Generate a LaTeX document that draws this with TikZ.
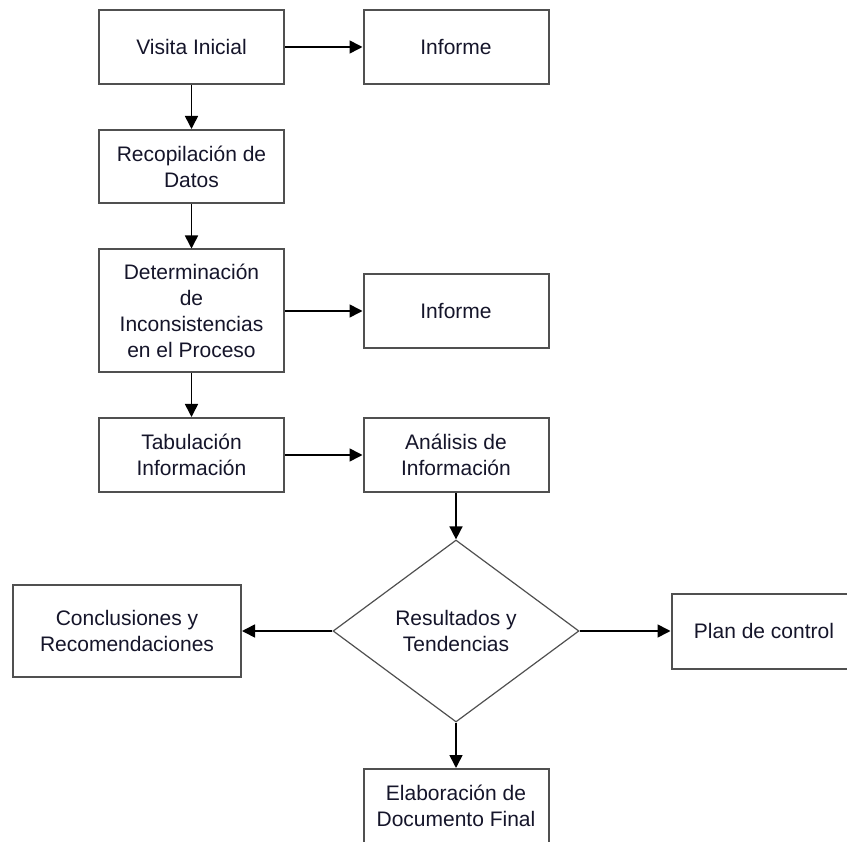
\documentclass[tikz,border=0pt]{standalone}
\usepackage{fontspec}
\setmainfont{Liberation Sans}
\usetikzlibrary{arrows.meta,shapes.geometric}
\definecolor{boxline}{HTML}{505050}
\definecolor{txt}{HTML}{15152A}
\tikzset{
  procbox/.style={draw=boxline,line width=2pt,rectangle,minimum width=185pt,minimum height=74pt,
    align=center,inner sep=2pt,text=txt,font={\fontsize{21}{26}\selectfont}},
  decbox/.style={draw=boxline,line width=1.2pt,shape=diamond,aspect=1.35,minimum width=246pt,minimum height=182pt,
    align=center,inner sep=0pt,text=txt,font={\fontsize{21}{26}\selectfont}},
  conn/.style={draw=black,line width=1.6pt,-{Triangle[length=13pt,width=13pt]}}
}
\begin{document}
\begin{tikzpicture}[x=1pt,y=-1pt]
\useasboundingbox (0,0) rectangle (847,842);
\fill[white] (0,0) rectangle (847,842);
\clip (0,0) rectangle (847,842);
\node[procbox] (visita) at (191.5,47) {Visita Inicial};
\node[procbox] (inf1) at (456,47) {Informe};
\node[procbox,minimum height=73pt] (recop) at (191.5,166.5) {Recopilación de\\Datos};
\node[procbox,minimum height=123pt] (deter) at (191.5,311) {Determinación\\de\\Inconsistencias\\en el Proceso};
\node[procbox] (inf2) at (456,311) {Informe};
\node[procbox] (tab) at (191.5,455) {Tabulación\\Información};
\node[procbox] (anal) at (456,455) {Análisis de\\Información};
\node[decbox] (dec) at (456,631) {Resultados y\\Tendencias};
\node[procbox,minimum width=228pt,minimum height=92pt] (concl) at (127,631) {Conclusiones y\\Recomendaciones};
\node[procbox,minimum height=75pt] (plan) at (764,631) {Plan de control};
\node[procbox] (elab) at (456,806) {Elaboración de\\Documento Final};
\draw[conn] (visita.east) -- (inf1.west);
\draw[conn] (visita.south) -- (recop.north);
\draw[conn] (recop.south) -- (deter.north);
\draw[conn] (deter.east) -- (inf2.west);
\draw[conn] (deter.south) -- (tab.north);
\draw[conn] (tab.east) -- (anal.west);
\draw[conn] (anal.south) -- (dec.north);
\draw[conn] (dec.west) -- (concl.east);
\draw[conn] (dec.east) -- (plan.west);
\draw[conn] (dec.south) -- (elab.north);
\end{tikzpicture}
\end{document}
